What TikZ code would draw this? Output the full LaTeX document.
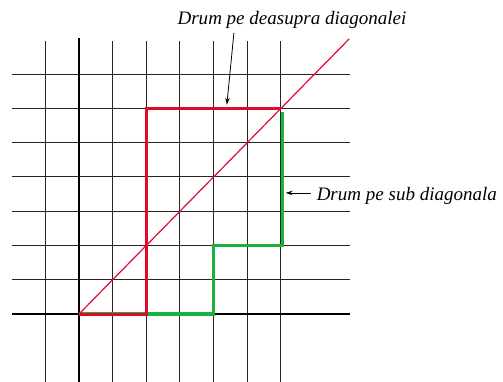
\documentclass[tikz,border=0pt]{standalone}
\usepackage{fontspec}
\setmainfont{Liberation Serif}
\newfontfamily\labelfont{Liberation Serif}
\usetikzlibrary{arrows.meta}
\definecolor{pathred}{RGB}{225,10,45}
\definecolor{pathgreen}{RGB}{25,178,60}
\begin{document}
\begin{tikzpicture}[x=33.6bp,y=34.3bp,
  gridline/.style={black!85,line width=0.8bp},
  axisline/.style={black,line width=2.6bp},
  redpath/.style={pathred,line width=3bp,line join=miter},
  greenpath/.style={pathgreen,line width=3.4bp,line join=miter},
  diag/.style={pathred,line width=1.2bp},
  lbl/.style={font=\labelfont\fontsize{19.1pt}{22pt}\selectfont\itshape,inner sep=0pt},
  pointer/.style={black,line width=0.8bp,-{Stealth[length=7bp,width=4.5bp]}}]
\useasboundingbox (-2.351,-1.953) rectangle (12.619,9.155);
% grid
\foreach \y in {1,...,7} \draw[gridline] (-2,\y) -- (8.07,\y);
\foreach \x in {-1,1,2,3,4,5,6} \draw[gridline] (\x,-2) -- (\x,7.95);
\draw[axisline] (-2,0) -- (8.07,0);
\draw[axisline] (0,-2) -- (0,8.05);
% paths
\draw[greenpath] (0,0) -- (4,0) -- (4,2) -- (6.05,2) -- (6.05,5.9);
\draw[redpath] (0,0) -- (2,0) -- (2,6) -- (6,6);
\draw[diag] (0,0) -- (8.04,8.02);
% labels
\node[lbl,anchor=base] (top) at (6.34,8.45) {Drum pe deasupra diagonalei};
\node[lbl,anchor=base west] (side) at (7.07,3.32) {Drum pe sub diagonala};
\coordinate (t1) at (4.61,8.19);
\coordinate (t2) at (4.40,6.1);
\coordinate (s1) at (6.90,3.53);
\coordinate (s2) at (6.15,3.53);
\draw[pointer] (t1) -- (t2);
\draw[pointer] (s1) -- (s2);
\end{tikzpicture}
\end{document}
